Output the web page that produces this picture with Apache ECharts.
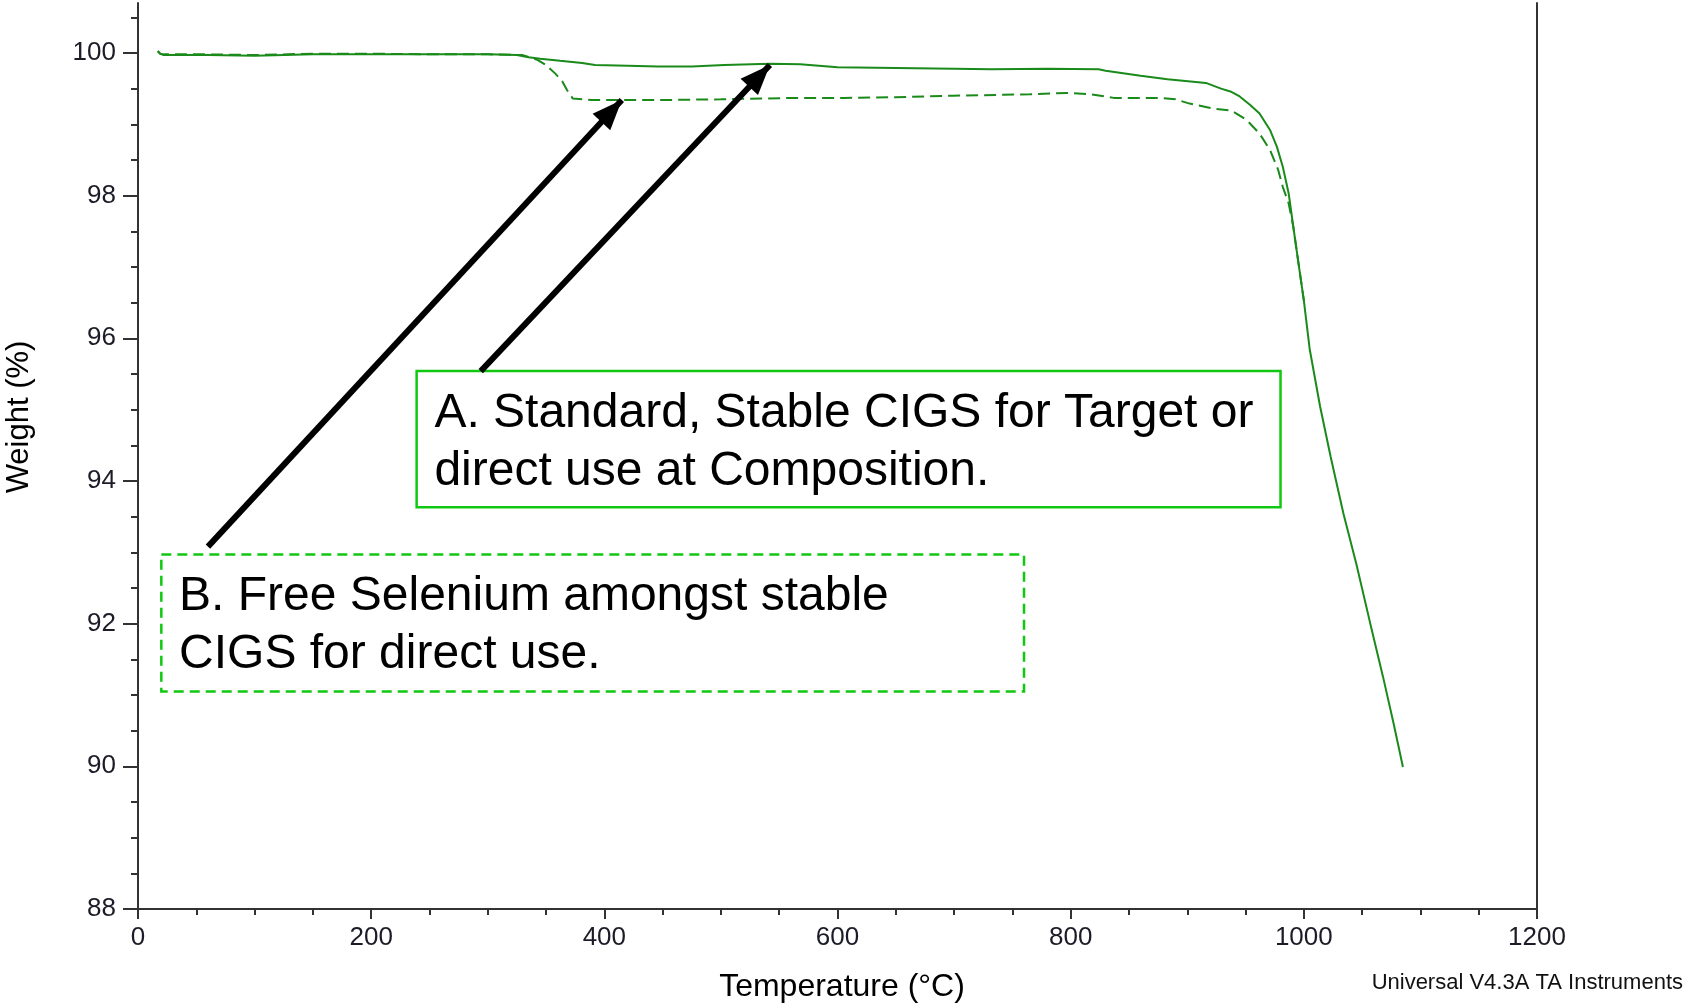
<!DOCTYPE html>
<html>
<head>
<meta charset="utf-8">
<script src="https://cdn.jsdelivr.net/npm/echarts@6/dist/echarts.min.js"></script>
<style>
  html, body { margin: 0; padding: 0; background: #fff; }
  #chart { width: 1686px; height: 1003px; }
</style>
</head>
<body>
<div id="chart"></div>
<script>
// TGA curves: temperature (°C) and weight (%)
const solidTemp = [17, 19, 22, 60, 100, 150, 200, 250, 300, 325, 335, 345, 362, 381, 392, 420, 446, 475, 503, 542,
  568, 600, 650, 700, 732, 780, 824, 830, 860, 883, 916, 929, 937, 945, 954, 962, 971, 977, 982, 987,
  991, 995, 1000, 1005, 1014, 1023, 1034, 1045, 1057, 1068, 1077, 1085];
const solidWeight = [100.03, 99.99, 99.97, 99.97, 99.96, 99.98, 99.98, 99.98, 99.98, 99.97, 99.94, 99.92, 99.89, 99.86, 99.83, 99.82, 99.81, 99.81, 99.83, 99.85,
  99.84, 99.80, 99.79, 99.78, 99.77, 99.78, 99.77, 99.75, 99.68, 99.63, 99.58, 99.50, 99.46, 99.39, 99.27, 99.15, 98.92, 98.68, 98.40, 98.03,
  97.56, 97.10, 96.53, 95.85, 95.04, 94.34, 93.54, 92.84, 92.00, 91.25, 90.60, 89.99];

const dashTemp = [17, 19, 22, 60, 100, 150, 200, 250, 300, 330, 343, 350, 358, 364, 368, 373, 389, 450, 500, 565,
  606, 650, 699, 765, 798, 817, 837, 877, 890, 902, 922, 938, 951, 962, 971, 978, 982, 987, 991, 995, 1000];
const dashWeight = [100.02, 99.99, 99.98, 99.98, 99.97, 99.99, 99.99, 99.98, 99.98, 99.97, 99.90, 99.83, 99.71, 99.60, 99.48, 99.36, 99.34, 99.34, 99.35, 99.37,
  99.37, 99.38, 99.40, 99.42, 99.44, 99.42, 99.37, 99.37, 99.35, 99.29, 99.22, 99.19, 99.06, 98.87, 98.64, 98.36, 98.12, 97.89, 97.56, 97.10, 96.53];

const yMajorTicks = [88, 90, 92, 94, 96, 98, 100];
const yMinorTicks = [88.5, 89, 89.5, 90.5, 91, 91.5, 92.5, 93, 93.5, 94.5, 95, 95.5, 96.5, 97, 97.5, 98.5, 99, 99.5, 100.5];

// annotations (data coordinates)
const noteA = ['A. Standard, Stable CIGS for Target or', 'direct use at Composition.'];
const noteB = ['B. Free Selenium amongst stable', 'CIGS for direct use.'];
const boxA = [[239, 95.54], [980, 93.63]];
const boxB = [[20, 92.97], [760, 91.05]];
const arrowA = [[294, 95.54], [542, 99.83]];
const arrowB = [[60, 93.08], [415, 99.34]];

const FONT = 'Liberation Sans, Arial, sans-serif';
const AXIS = '#333';
const CURVE = '#1a8a1a';
const BOX = '#11c811';

const chart = echarts.init(document.getElementById('chart'));

const option = {
  animation: false,
  backgroundColor: '#fff',
  grid: { left: 138, right: 149, top: 3, bottom: 94, outerBoundsMode: 'none' },
  xAxis: {
    type: 'value',
    min: 0,
    max: 1200,
    interval: 200,
    name: 'Temperature (°C)',
    nameLocation: 'middle',
    nameGap: 62,
    nameTextStyle: { fontSize: 32, color: '#000', fontFamily: FONT, padding: [0, 0, 0, 9] },
    axisLine: { lineStyle: { color: AXIS, width: 2 } },
    axisTick: { length: 10, lineStyle: { color: AXIS, width: 2 } },
    minorTick: { show: true, splitNumber: 4, length: 6, lineStyle: { color: AXIS, width: 2 } },
    axisLabel: { margin: 16, fontSize: 26, color: '#1c1c28', fontFamily: FONT, formatter: v => String(v) },
    splitLine: { show: false }
  },
  yAxis: [
    {
      type: 'value',
      min: 88,
      max: 100.7,
      position: 'left',
      name: 'Weight (%)',
      nameLocation: 'middle',
      nameGap: 103,
      nameTextStyle: { fontSize: 31, color: '#000', fontFamily: FONT, padding: [0, 0, 0, 78] },
      axisLine: { show: true, lineStyle: { color: AXIS, width: 2 } },
      axisTick: { show: true, length: 15, customValues: yMajorTicks, lineStyle: { color: AXIS, width: 2 } },
      axisLabel: { customValues: yMajorTicks, margin: 22, fontSize: 26, color: '#1c1c28', fontFamily: FONT },
      splitLine: { show: false }
    },
    {
      type: 'value',
      min: 88,
      max: 100.7,
      position: 'left',
      axisLine: { show: false },
      axisTick: { show: true, length: 7, customValues: yMinorTicks, lineStyle: { color: AXIS, width: 2 } },
      axisLabel: { show: false },
      splitLine: { show: false }
    },
    {
      type: 'value',
      min: 88,
      max: 100.7,
      position: 'right',
      axisLine: { show: true, lineStyle: { color: AXIS, width: 2 } },
      axisTick: { show: false },
      axisLabel: { show: false },
      splitLine: { show: false }
    }
  ],
  graphic: [
    {
      type: 'text',
      right: 3,
      top: 972,
      style: { text: 'Universal V4.3A TA Instruments', fontSize: 22, fill: '#111', fontFamily: FONT }
    }
  ],
  series: [
    {
      name: 'A',
      type: 'line',
      data: solidTemp.map((t, i) => [t, solidWeight[i]]),
      symbol: 'none',
      lineStyle: { color: CURVE, width: 2 },
      z: 3,
      markArea: {
        silent: true,
        data: [
          [
            {
              coord: boxA[0],
              itemStyle: { color: 'rgba(0,0,0,0)', borderColor: BOX, borderWidth: 2.5, borderType: 'solid' },
              label: { formatter: noteA.join('\n') }
            },
            { coord: boxA[1] }
          ],
          [
            {
              coord: boxB[0],
              itemStyle: { color: 'rgba(0,0,0,0)', borderColor: BOX, borderWidth: 2.5, borderType: [10, 6] },
              label: { formatter: noteB.join('\n') }
            },
            { coord: boxB[1] }
          ]
        ],
        label: {
          show: true,
          position: 'insideTopLeft',
          distance: 0,
          padding: [15, 0, 0, 19],
          fontSize: 48,
          lineHeight: 58,
          color: '#000',
          fontFamily: FONT
        }
      },
      markLine: {
        silent: true,
        symbol: ['none', 'triangle'],
        symbolSize: [24, 30],
        symbolOffset: [0, [0, 15]],
        lineStyle: { color: '#000', width: 6, type: 'solid' },
        itemStyle: { color: '#000' },
        label: { show: false },
        emphasis: { disabled: true },
        data: [
          [{ coord: arrowB[0] }, { coord: arrowB[1] }],
          [{ coord: arrowA[0] }, { coord: arrowA[1] }]
        ]
      }
    },
    {
      name: 'B',
      type: 'line',
      data: dashTemp.map((t, i) => [t, dashWeight[i]]),
      symbol: 'none',
      lineStyle: { color: CURVE, width: 2, type: [12, 6] },
      z: 3
    }
  ]
};

chart.setOption(option);
window.addEventListener('resize', () => chart.resize());
</script>
</body>
</html>
